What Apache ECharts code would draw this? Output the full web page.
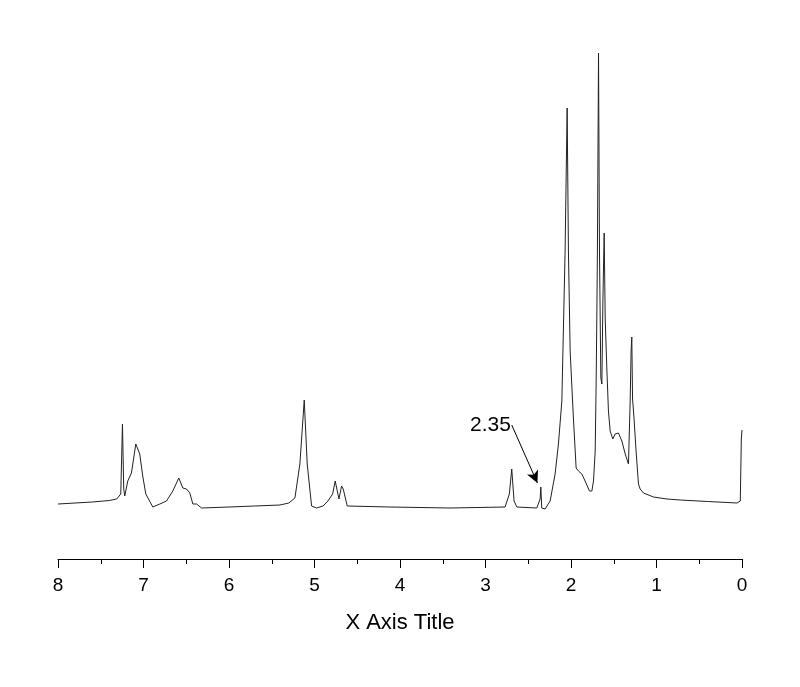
<!DOCTYPE html>
<html>
<head>
<meta charset="utf-8">
<script src="https://cdn.jsdelivr.net/npm/echarts@6/dist/echarts.min.js"></script>
<style>
  html, body { margin: 0; padding: 0; background: #fff; }
  #chart { width: 800px; height: 687px; }
</style>
</head>
<body>
<div id="chart"></div>
<script>
// chemical shift (ppm)
const shifts = [
  8.0, 7.6, 7.4, 7.313, 7.266, 7.246, 7.231, 7.219, 7.184, 7.141, 7.09, 7.044, 7.009, 6.973, 6.95,
  6.891, 6.809, 6.731, 6.657, 6.587, 6.54, 6.497, 6.458, 6.423, 6.38, 6.321, 6.0, 5.7, 5.405,
  5.3, 5.229, 5.171, 5.12, 5.085, 5.034, 4.975, 4.9, 4.843, 4.788, 4.758, 4.714, 4.683, 4.664,
  4.617, 4.117, 3.415, 2.771, 2.721, 2.693, 2.666, 2.634, 2.4, 2.361, 2.353, 2.342,
  2.303, 2.244, 2.186, 2.147, 2.107, 2.069, 2.045, 2.03, 2.01, 1.972, 1.94, 1.913,
  1.873, 1.835, 1.784, 1.756, 1.737, 1.717, 1.706, 1.698, 1.691, 1.678, 1.667, 1.651,
  1.639, 1.627, 1.612, 1.6, 1.581, 1.562, 1.542, 1.511, 1.484, 1.445, 1.405, 1.366,
  1.328, 1.308, 1.297, 1.289, 1.28, 1.271, 1.263, 1.239, 1.211, 1.191, 1.152, 1.035,
  0.878, 0.722, 0.4, 0.059, 0.02, 0.008, 0.0
]
// intensity (arbitrary units)
const intensity = [
  55, 57, 58.5, 60, 65, 135, 70, 63, 78, 86, 115, 105, 83, 65, 63,
  52, 55, 58, 68, 81, 71, 70, 66, 55, 55, 51, 52, 53, 54,
  56, 61, 95, 159, 95, 53, 51, 53, 58, 65, 78, 60, 73, 70,
  53, 52, 51, 52, 65, 90, 58, 52, 51, 60, 72, 51,
  50, 58, 85, 115, 158, 308, 451, 308, 208, 141, 91, 88,
  85, 78, 68, 68, 78, 108, 175, 241, 308, 506, 308, 181,
  175, 258, 326, 241, 191, 148, 128, 120, 125, 126, 118, 105,
  95, 158, 208, 222, 160, 150, 141, 108, 75, 70, 66, 62,
  60, 59, 57.5, 56, 58, 120, 129
]
const xTicks = [8, 7, 6, 5, 4, 3, 2, 1, 0]

// annotation
const noteText = '2.35'
const notePos = [2.941, 134]
const arrowFrom = [2.693, 134]
const arrowTo = [2.393, 76]

const chart = echarts.init(document.getElementById('chart'))

const option = {
  animation: false,
  backgroundColor: '#fff',
  grid: {
    left: 58,
    right: 58,
    top: 40,
    bottom: 128
  },
  xAxis: {
    type: 'value',
    inverse: true,
    min: 0,
    max: 8,
    interval: 1,
    name: 'X Axis Title',
    nameLocation: 'middle',
    nameGap: 53,
    nameTextStyle: {
      color: '#000',
      fontFamily: 'Liberation Sans',
      fontSize: 22
    },
    axisLine: { lineStyle: { color: '#000', width: 1 } },
    axisTick: { show: true, length: 9, lineStyle: { color: '#000' } },
    minorTick: { show: true, splitNumber: 2, length: 5, lineStyle: { color: '#000' } },
    splitLine: { show: false },
    axisLabel: {
      color: '#000',
      fontFamily: 'Liberation Sans',
      fontSize: 19,
      margin: 17,
      formatter: v => (xTicks.includes(v) ? String(v) : '')
    }
  },
  yAxis: {
    type: 'value',
    show: false,
    min: 0,
    max: 519
  },
  series: [
    {
      type: 'line',
      data: shifts.map((s, i) => [s, intensity[i]]),
      showSymbol: false,
      symbol: 'none',
      lineStyle: { color: '#222', width: 1 },
      silent: true,
      markLine: {
        silent: true,
        symbol: ['none', 'arrow'],
        symbolSize: [9, 12],
        label: { show: false },
        lineStyle: { color: '#000', width: 1, type: 'solid' },
        data: [[{ coord: arrowFrom }, { coord: arrowTo }]]
      },
      markPoint: {
        silent: true,
        symbol: 'circle',
        symbolSize: 0,
        label: {
          show: true,
          position: 'inside',
          formatter: noteText,
          color: '#000',
          fontFamily: 'Liberation Sans',
          fontSize: 21
        },
        data: [{ coord: notePos }]
      }
    }
  ]
}

chart.setOption(option)
</script>
</body>
</html>
